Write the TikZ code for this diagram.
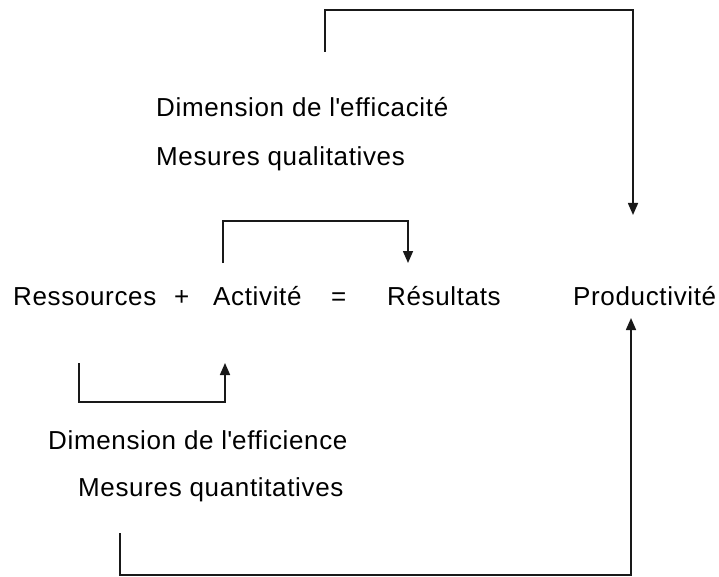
\documentclass[tikz,border=0pt]{standalone}
\usepackage{fontspec}
\setmainfont{Liberation Sans}[LetterSpace=2.5]
\usetikzlibrary{arrows.meta}
\begin{document}
\begin{tikzpicture}[x=1pt,y=-1pt,
  lbl/.style={anchor=base west,inner sep=0pt,font=\fontsize{26}{30}\selectfont},
  link/.style={line width=1.6pt,draw=black!90},
  arr/.style={link,-{Triangle[length=12pt,width=10pt]}}]
\useasboundingbox[fill=white] (0,0) rectangle (719,577);

% equation line
\node[lbl] (res)  at (13,305)  {Ressources};
\node[lbl] (plus) at (174,305) {+};
\node[lbl] (act)  at (213,305) {Activité};
\node[lbl] (eq)   at (331,305) {=};
\node[lbl] (out)  at (387,305) {Résultats};
\node[lbl] (prod) at (573,305) {Productivité};

% effectiveness labels
\node[lbl] (effa) at (156,117) {Dimension de l\textquotesingle efficacité};
\node[lbl] (qual) at (156,166) {Mesures qualitatives};

% efficiency labels
\node[lbl] (effi) at (48,449) {Dimension de l\textquotesingle efficience};
\node[lbl] (quan) at (78,496) {Mesures quantitatives};

% end points of the connectors
\coordinate (topstart) at (325,52);
\coordinate (topend)   at (633,215);
\coordinate (midstart) at (223,263);
\coordinate (midend)   at (408,263);
\coordinate (lowstart) at (79,363);
\coordinate (lowend)   at (225,363);
\coordinate (botstart) at (120,533);
\coordinate (botend)   at (631,318);

% effectiveness loop: to Productivité
\draw[arr] (topstart) -- (topstart |- 0,10) -| (topend);
% activity to results
\draw[arr] (midstart) -- (midstart |- 0,221) -| (midend);
% resources to activity
\draw[arr] (lowstart) -- (lowstart |- 0,402) -| (lowend);
% efficiency loop: to Productivité
\draw[arr] (botstart) -- (botstart |- 0,575) -| (botend);
\end{tikzpicture}
\end{document}
